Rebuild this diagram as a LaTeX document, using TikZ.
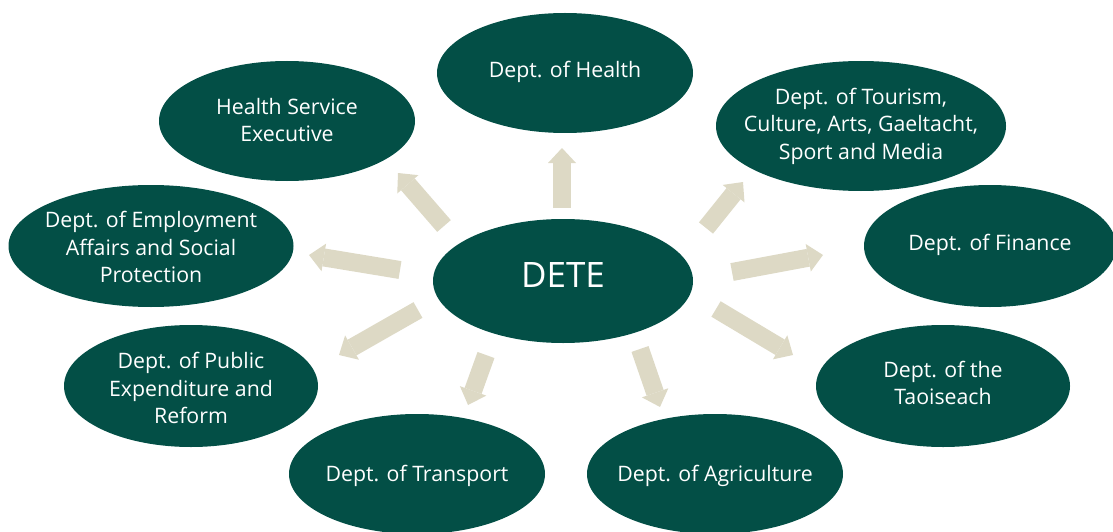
\documentclass[tikz,border=0pt]{standalone}
\usepackage{fontspec}
\setmainfont{Open Sans}
\usetikzlibrary{shapes.geometric,arrows.meta}
\definecolor{teal}{HTML}{034F46}
\definecolor{beige}{HTML}{DDD9C5}
\tikzset{
  ell/.style={ellipse, fill=teal, draw=none, inner sep=0pt},
  lbl/.style={text=white, align=center, font=\fontsize{21.3}{27.5}\selectfont, inner sep=0pt},
  blockarr/.style={draw=beige, line width=18pt, -{Triangle[width=28pt,length=15pt,line width=0pt,fill=beige]}}
}
\begin{document}
\begin{tikzpicture}[x=1pt,y=-1pt]
\useasboundingbox (0,0) rectangle (1113,532);
% ellipses
\node[ell, minimum width=260pt, minimum height=124pt] (dete)   at (563,281) {};
\node[ell, minimum width=256pt, minimum height=120pt] (health) at (565,73)  {};
\node[ell, minimum width=256pt, minimum height=120pt] (hse)    at (287,121) {};
\node[ell, minimum width=290pt, minimum height=130pt] (tour)   at (861,126) {};
\node[ell, minimum width=252pt, minimum height=122pt] (fin)    at (990,246) {};
\node[ell, minimum width=285pt, minimum height=122pt] (emp)    at (151,246) {};
\node[ell, minimum width=254pt, minimum height=122pt] (pub)    at (191,386) {};
\node[ell, minimum width=254pt, minimum height=122pt] (tao)    at (943,386) {};
\node[ell, minimum width=256pt, minimum height=120pt] (trans)  at (417,474) {};
\node[ell, minimum width=256pt, minimum height=120pt] (agri)   at (715,474) {};
% labels
\node[lbl, font=\fontsize{35}{40}\selectfont] (deteT) at ([yshift=6pt]dete.center) {DETE};
\node[lbl] (healthT) at ([yshift=1pt]health.center) {Dept. of Health};
\node[lbl] (hseT)    at ([yshift=1pt]hse.center) {Health Service\\Executive};
\node[lbl] (tourT)   at (tour.center) {Dept. of Tourism,\\Culture, Arts, Gaeltacht,\\Sport and Media};
\node[lbl] (finT)    at ([yshift=1pt]fin.center) {Dept. of Finance};
\node[lbl] (empT)    at ([yshift=-1pt]emp.center) {Dept. of Employment\\Affairs and Social\\Protection};
\node[lbl] (pubT)    at ([yshift=-2pt]pub.center) {Dept. of Public\\Expenditure and\\Reform};
\node[lbl] (taoT)    at ([yshift=3pt]tao.center) {Dept. of the\\Taoiseach};
\node[lbl] (transT)  at ([yshift=-2pt]trans.center) {Dept. of Transport};
\node[lbl] (agriT)   at ([yshift=-2pt]agri.center) {Dept. of Agriculture};
% arrow end points
\coordinate (a1s) at (562,208); \coordinate (a1e) at (562,148);
\coordinate (a2s) at (444,226); \coordinate (a2e) at (398,173);
\coordinate (a3s) at (706,228); \coordinate (a3e) at (743,182);
\coordinate (a4s) at (732,272); \coordinate (a4e) at (823,255);
\coordinate (a5s) at (716,309); \coordinate (a5e) at (793,355);
\coordinate (a6s) at (640,349); \coordinate (a6e) at (660,407);
\coordinate (a7s) at (486,355); \coordinate (a7e) at (468,405);
\coordinate (a8s) at (418,310); \coordinate (a8e) at (339,355);
\coordinate (a9s) at (400,270); \coordinate (a9e) at (309,255);
\foreach \i in {1,...,9} {\draw[blockarr] (a\i s) -- (a\i e);}
\end{tikzpicture}
\end{document}
